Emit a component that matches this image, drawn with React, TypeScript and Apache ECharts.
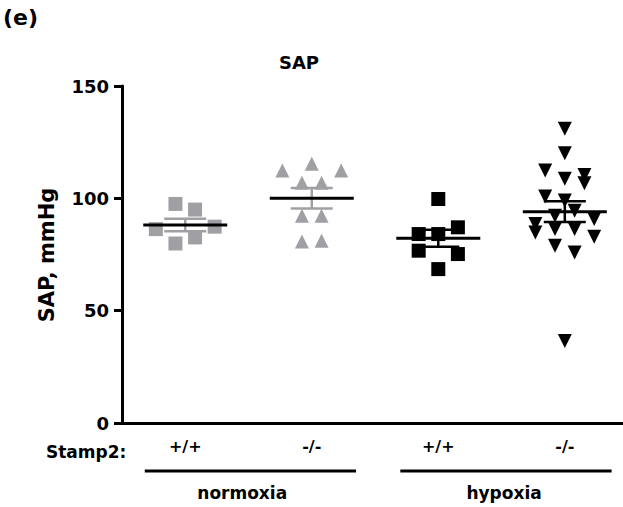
import React, { useEffect, useRef } from "react";
import * as echarts from "echarts";

// ---- data (SAP, mmHg) ----
const GENOTYPES = ["+/+", "-/-", "+/+", "-/-"];
const CONDITIONS = ["normoxia", "hypoxia"];
const Y_TICKS = [0, 50, 100, 150];

const NORMOXIA_WT = [97.5, 95, 86.3, 87.4, 79.9, 82.6];
const NORMOXIA_WT_COL = [-1, 1, -3, 3, -1, 1];

const NORMOXIA_KO = [112.4, 115.4, 112.4, 106.9, 106.9, 92.3, 92.3, 80.8, 81.1];
const NORMOXIA_KO_COL = [-3, 0, 3, -1, 1, -1, 1, -1, 1];

const HYPOXIA_WT = [99.7, 84.1, 84.1, 87.1, 76.7, 75.2, 68.5];
const HYPOXIA_WT_COL = [0, -2, 0, 2, -2, 2, 0];

const HYPOXIA_KO = [
  131, 120.1, 112.4, 108.7, 110.4, 106.7, 100.8, 99, 94.5, 92.3, 90.8, 88.6,
  84.8, 86.3, 86.3, 82.9, 78.9, 75.9, 36.5,
];
const HYPOXIA_KO_COL = [0, 0, -2, 0, 2, 2, -2, 0, 1, -1, 3, -3, -3, -1, 1, 3, -1, 1, 0];

// ---- styles ----
const GRAY = "#a0a0a4";
const BLACK = "#000000";
const FONT = "DejaVu Sans";
const JITTER = 0.0775;

const groups = [
  { vals: NORMOXIA_WT, cols: NORMOXIA_WT_COL, symbol: "rect", rot: 0, color: GRAY, dark: 0 },
  { vals: NORMOXIA_KO, cols: NORMOXIA_KO_COL, symbol: "triangle", rot: 0, color: GRAY, dark: 0 },
  { vals: HYPOXIA_WT, cols: HYPOXIA_WT_COL, symbol: "rect", rot: 0, color: BLACK, dark: 1 },
  { vals: HYPOXIA_KO, cols: HYPOXIA_KO_COL, symbol: "triangle", rot: 180, color: BLACK, dark: 1 },
];

function meanSem(v: number[]) {
  const n = v.length;
  const m = v.reduce((a, b) => a + b, 0) / n;
  const sd = Math.sqrt(v.reduce((a, b) => a + (b - m) * (b - m), 0) / (n - 1));
  return [m, sd / Math.sqrt(n)];
}

export default function App() {
  const ref = useRef<HTMLDivElement>(null);
  useEffect(() => {
    if (!ref.current) return;
    const chart = echarts.init(ref.current, null, { renderer: "svg" });

    const scatterSeries = groups.map((g, gi) => ({
      type: "scatter",
      symbol: g.symbol,
      symbolRotate: g.rot,
      symbolSize: 14,
      itemStyle: { color: g.color, opacity: 1 },
      z: 2,
      data: g.vals.map((v, i) => [gi + 1 + g.cols[i] * JITTER, v]),
    }));

    const statData = groups.map((g, gi) => {
      const [m, s] = meanSem(g.vals);
      return [gi + 1, m, s, g.dark];
    });

    const statSeries = {
      type: "custom",
      z: 5,
      data: statData,
      renderItem: (_p: any, api: any) => {
        const x = api.value(0);
        const m = api.value(1);
        const s = api.value(2);
        const dark = api.value(3);
        const c = api.coord([x, m]);
        const hi = api.coord([x, m + s]);
        const lo = api.coord([x, m - s]);
        const semColor = dark ? BLACK : GRAY;
        return {
          type: "group",
          children: [
            { type: "line", shape: { x1: c[0] - 21, y1: hi[1], x2: c[0] + 21, y2: hi[1] }, style: { stroke: semColor, lineWidth: 2.5 } },
            { type: "line", shape: { x1: c[0] - 21, y1: lo[1], x2: c[0] + 21, y2: lo[1] }, style: { stroke: semColor, lineWidth: 2.5 } },
            { type: "line", shape: { x1: c[0], y1: hi[1], x2: c[0], y2: lo[1] }, style: { stroke: semColor, lineWidth: 2.5 } },
            { type: "line", shape: { x1: c[0] - 42, y1: c[1], x2: c[0] + 42, y2: c[1] }, style: { stroke: BLACK, lineWidth: 3 } },
          ],
        };
      },
    };

    chart.setOption({
      animation: false,
      grid: { left: 122, right: 0, top: 86, bottom: 84, containLabel: false },
      xAxis: {
        type: "value",
        min: 0.5,
        max: 4.46,
        splitLine: { show: false },
        axisLine: { show: true, lineStyle: { color: BLACK, width: 3 } },
        axisTick: { show: false },
        axisLabel: {
          show: true,
          customValues: [1, 2, 3, 4],
          formatter: (v: number) => GENOTYPES[Math.round(v) - 1] ?? "",
          margin: 15,
          color: BLACK,
          fontFamily: FONT,
          fontWeight: "bold",
          fontSize: 16,
        },
      },
      yAxis: {
        type: "value",
        min: 0,
        max: 150,
        interval: 50,
        splitLine: { show: false },
        axisLine: { show: true, lineStyle: { color: BLACK, width: 3 } },
        axisTick: { show: true, length: 8, lineStyle: { color: BLACK, width: 3 } },
        axisLabel: {
          margin: 13,
          color: BLACK,
          fontFamily: FONT,
          fontWeight: "bold",
          fontSize: 18,
          formatter: (v: number) => (Y_TICKS.includes(v) ? String(v) : ""),
        },
      },
      series: [...scatterSeries, statSeries],
    });

    const px = (v: number) => chart.convertToPixel({ xAxisIndex: 0 }, v) as number;
    const textStyle = (size: number) => ({ fill: BLACK, fontFamily: FONT, fontWeight: "bold", fontSize: size });
    const brackets = [
      { from: 0.68, to: 2.35, mid: 1.45, label: CONDITIONS[0] },
      { from: 2.7, to: 4.37, mid: 3.52, label: CONDITIONS[1] },
    ];

    chart.setOption({
      graphic: [
        { type: "text", left: 3, top: 6, style: { text: "(e)", ...textStyle(22) } },
        { type: "text", x: 299, y: 62, style: { text: "SAP", align: "center", verticalAlign: "middle", ...textStyle(18) } },
        {
          type: "text",
          x: 47,
          y: 255,
          rotation: Math.PI / 2,
          style: { text: "SAP, mmHg", align: "center", verticalAlign: "middle", ...textStyle(21) },
        },
        { type: "text", x: 46, y: 452, style: { text: "Stamp2:", align: "left", verticalAlign: "middle", ...textStyle(17) } },
        ...brackets.flatMap((b) => [
          {
            type: "line",
            shape: { x1: px(b.from), y1: 471, x2: px(b.to), y2: 471 },
            style: { stroke: BLACK, lineWidth: 3 },
          },
          {
            type: "text",
            x: px(b.mid),
            y: 493,
            style: { text: b.label, align: "center", verticalAlign: "middle", ...textStyle(17) },
          },
        ]),
      ],
    });

    return () => chart.dispose();
  }, []);

  return (
    <div
      ref={ref}
      style={{ position: "absolute", left: 0, top: 0, width: 623, height: 507, background: "#fff" }}
    />
  );
}
